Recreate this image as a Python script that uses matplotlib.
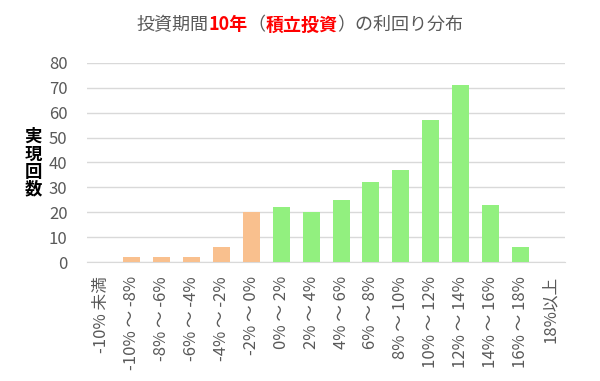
import matplotlib
matplotlib.use("Agg")
import matplotlib.pyplot as plt

plt.rcParams['font.family'] = ['Noto Sans CJK JP', 'DejaVu Sans']

# bins of annual return and how many times each happened
categories = ["-10% 未満", "-10% ～ -8%", "-8% ～ -6%", "-6% ～ -4%", "-4% ～ -2%",
              "-2% ～ 0%", "0% ～ 2%", "2% ～ 4%", "4% ～ 6%", "6% ～ 8%",
              "8% ～ 10%", "10% ～ 12%", "12% ～ 14%", "14% ～ 16%", "16% ～ 18%",
              "18%以上"]
counts = [0, 2, 2, 2, 6, 20, 22, 20, 25, 32, 37, 57, 71, 23, 6, 0]
n_negative = 6

orange = "#F9C08E"
green = "#92F07F"
grey = "#595959"
colors = [orange if i < n_negative else green for i in range(len(counts))]

fig = plt.figure(figsize=(6, 3.81), dpi=100)
ax = fig.add_axes([0.145, 0.312, 0.797, 0.523])

x = list(range(len(categories)))
ax.bar(x, counts, width=0.57, color=colors, zorder=3)

ax.set_xlim(-0.5, len(categories) - 0.5)
ax.set_ylim(0, 80)
ax.set_yticks(range(0, 81, 10))
ax.yaxis.grid(True, color="#D9D9D9", linewidth=1, zorder=0)
for s in ["top", "right", "left"]:
    ax.spines[s].set_visible(False)
ax.spines["bottom"].set_color("#D9D9D9")
ax.tick_params(axis="both", length=0, colors=grey, labelsize=12)
ax.tick_params(axis="y", pad=14)
ax.tick_params(axis="x", pad=10)
ax.set_xticks(x)
ax.set_xticklabels(categories, rotation=90, va="top", ha="center")

fig.text(0.055, 0.572, "実\n現\n回\n数", ha="center", va="center",
         fontsize=12.5, fontweight="bold", color="black", linespacing=0.95)

# title in several coloured pieces
parts = [("投資期間", grey, "normal"), ("10年", "#FF0000", "bold"),
         ("（", grey, "normal"), ("積立投資", "#FF0000", "bold"),
         ("）の利回り分布", grey, "normal")]
fig.canvas.draw()
r = fig.canvas.get_renderer()
texts = []
for s, c, w in parts:
    t = fig.text(0, 0.92, s, color=c, fontweight=w, fontsize=13, ha="left", va="baseline")
    texts.append(t)
widths = [t.get_window_extent(r).width for t in texts]
total = sum(widths)
xpos = (fig.bbox.width - total) / 2
for t, wd in zip(texts, widths):
    t.set_x(xpos / fig.bbox.width)
    xpos += wd

fig.savefig("out.png", dpi=100)
